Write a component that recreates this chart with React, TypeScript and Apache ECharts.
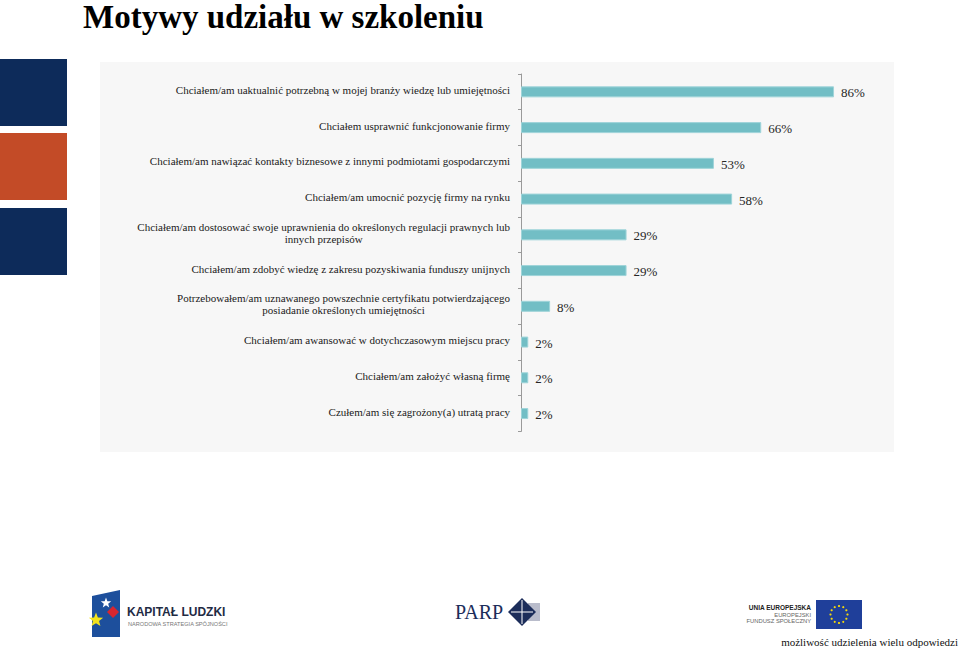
import React, { useEffect, useRef } from "react";
import * as echarts from "echarts";

const titleText = "Motywy udziału w szkoleniu";
const categories = [
  "Chciałem/am uaktualnić potrzebną w mojej branży wiedzę lub umiejętności",
  "Chciałem usprawnić funkcjonowanie firmy",
  "Chciałem/am nawiązać kontakty biznesowe z innymi podmiotami gospodarczymi",
  "Chciałem/am umocnić pozycję firmy na rynku",
  "Chciałem/am dostosować swoje uprawnienia do określonych regulacji prawnych lub\ninnych przepisów",
  "Chciałem/am zdobyć wiedzę z zakresu pozyskiwania funduszy unijnych",
  "Potrzebowałem/am uznawanego powszechnie certyfikatu potwierdzającego\nposiadanie określonych umiejętności",
  "Chciałem/am awansować w dotychczasowym miejscu pracy",
  "Chciałem/am założyć własną firmę",
  "Czułem/am się zagrożony(a) utratą pracy",
];
const values = [86, 66, 53, 58, 29, 29, 8, 2, 2, 2];
const footnote = "możliwość udzielenia wielu odpowiedzi";

function starPoints(cx: number, cy: number, R: number, r: number, rot = -Math.PI / 2) {
  const pts: number[][] = [];
  for (let i = 0; i < 10; i++) {
    const a = rot + (i * Math.PI) / 5;
    const rad = i % 2 === 0 ? R : r;
    pts.push([cx + rad * Math.cos(a), cy + rad * Math.sin(a)]);
  }
  return pts;
}

export default function App() {
  const ref = useRef<HTMLDivElement>(null);
  useEffect(() => {
    if (!ref.current) return;
    const chart = echarts.init(ref.current, undefined, { renderer: "svg" });
    const serif = "Liberation Serif";
    const sans = "Liberation Sans";

    const euStars: any[] = [];
    for (let i = 0; i < 12; i++) {
      const a = (i * Math.PI) / 6;
      euStars.push({
        type: "circle",
        shape: { cx: 839 + 8.5 * Math.cos(a), cy: 614.5 + 8.5 * Math.sin(a), r: 1.1 },
        style: { fill: "#f5d90a" },
        silent: true,
      });
    }

    const option: any = {
      animation: false,
      backgroundColor: "#ffffff",
      grid: { left: 521, top: 74, width: 364, height: 357.4, containLabel: false },
      xAxis: {
        type: "value",
        min: 0,
        max: 100,
        show: false,
        splitLine: { show: false },
      },
      yAxis: {
        type: "category",
        inverse: true,
        data: categories,
        axisLine: { show: true, lineStyle: { color: "#9a9a9a", width: 1 } },
        axisTick: { show: true, length: 3, lineStyle: { color: "#9a9a9a" } },
        axisLabel: {
          margin: 11,
          color: "#1a1a1a",
          fontFamily: serif,
          fontSize: 11,
          lineHeight: 12,
          padding: [0, 0, 4, 0],
          formatter: (v: string) =>
            v
              .split("\n")
              .map((l) => "{c|" + l + "}")
              .join("\n"),
          rich: {
            c: { align: "center", fontFamily: serif, fontSize: 11, lineHeight: 12, color: "#1a1a1a" },
          },
        },
        splitLine: { show: false },
      },
      series: [
        {
          type: "bar",
          data: values,
          barWidth: 11,
          itemStyle: { color: "#72bec5", borderColor: "#9fd4d9", borderWidth: 1 },
          label: {
            show: true,
            position: "right",
            distance: 7,
            offset: [0, 1],
            formatter: "{c}%",
            fontFamily: serif,
            fontSize: 13,
            color: "#262626",
          },
        },
      ],
      graphic: [
        {
          type: "rect",
          shape: { x: 100, y: 62, width: 794, height: 390 },
          style: { fill: "#f7f7f7" },
          z: -10,
          silent: true,
        },
        { type: "rect", shape: { x: 0, y: 59, width: 67, height: 67 }, style: { fill: "#0d2b5a" }, silent: true },
        { type: "rect", shape: { x: 0, y: 133, width: 67, height: 67 }, style: { fill: "#c34b27" }, silent: true },
        { type: "rect", shape: { x: 0, y: 208, width: 67, height: 67 }, style: { fill: "#0d2b5a" }, silent: true },
        {
          type: "text",
          x: 83,
          y: 17,
          style: {
            text: titleText,
            font: "bold 33px " + serif,
            fill: "#000000",
            align: "left",
            verticalAlign: "middle",
          },
          silent: true,
        },
        // Kapitał Ludzki logo
        {
          type: "polygon",
          shape: { points: [[92, 596], [120, 590], [120, 637], [92, 637]] },
          style: { fill: "#1d4f9c" },
          silent: true,
        },
        {
          type: "polygon",
          shape: { points: starPoints(106, 603, 5.5, 2.3) },
          style: { fill: "#ffffff" },
          silent: true,
        },
        {
          type: "polygon",
          shape: { points: [[113, 606], [119, 612], [113, 618], [107, 612]] },
          style: { fill: "#d8262f" },
          silent: true,
        },
        {
          type: "polygon",
          shape: { points: starPoints(96, 620, 7.5, 3.2) },
          style: { fill: "#f3e21c" },
          silent: true,
        },
        {
          type: "text",
          x: 127,
          y: 612,
          style: { text: "KAPITAŁ LUDZKI", font: "bold 12px " + sans, fill: "#1f2b44", align: "left", verticalAlign: "middle" },
          silent: true,
        },
        {
          type: "text",
          x: 128,
          y: 624,
          style: { text: "NARODOWA STRATEGIA SPÓJNOŚCI", font: "5.6px " + sans, fill: "#777777", align: "left", verticalAlign: "middle" },
          silent: true,
        },
        // PARP logo
        {
          type: "text",
          x: 455,
          y: 612,
          style: { text: "PARP", font: "20px " + serif, fill: "#1c2d5a", align: "left", verticalAlign: "middle" },
          silent: true,
        },
        { type: "rect", shape: { x: 528, y: 603, width: 12, height: 18 }, style: { fill: "#b9bccb" }, silent: true },
        {
          type: "polygon",
          shape: { points: [[522, 598], [536, 612], [522, 626], [508, 612]] },
          style: { fill: "#1c2d5a" },
          silent: true,
        },
        { type: "line", shape: { x1: 522, y1: 600, x2: 522, y2: 624 }, style: { stroke: "#ffffff", lineWidth: 1 }, silent: true },
        { type: "line", shape: { x1: 511, y1: 612, x2: 533, y2: 612 }, style: { stroke: "#ffffff", lineWidth: 1 }, silent: true },
        // EU logo
        {
          type: "text",
          x: 811,
          y: 607,
          style: { text: "UNIA EUROPEJSKA", font: "bold 6.5px " + sans, fill: "#222222", align: "right", verticalAlign: "middle" },
          silent: true,
        },
        {
          type: "text",
          x: 811,
          y: 614.5,
          style: { text: "EUROPEJSKI", font: "5.8px " + sans, fill: "#666666", align: "right", verticalAlign: "middle" },
          silent: true,
        },
        {
          type: "text",
          x: 811,
          y: 621,
          style: { text: "FUNDUSZ SPOŁECZNY", font: "5.8px " + sans, fill: "#666666", align: "right", verticalAlign: "middle" },
          silent: true,
        },
        { type: "rect", shape: { x: 816, y: 600, width: 46, height: 29 }, style: { fill: "#1f3f9a" }, silent: true },
        ...euStars,
        {
          type: "text",
          x: 958,
          y: 642,
          style: { text: footnote, font: "11px " + serif, fill: "#111111", align: "right", verticalAlign: "middle" },
          silent: true,
        },
      ],
    };
    chart.setOption(option);
    return () => chart.dispose();
  }, []);
  return (
    <div
      ref={ref}
      style={{ position: "absolute", left: 0, top: 0, width: 959, height: 652, background: "#ffffff" }}
    />
  );
}
